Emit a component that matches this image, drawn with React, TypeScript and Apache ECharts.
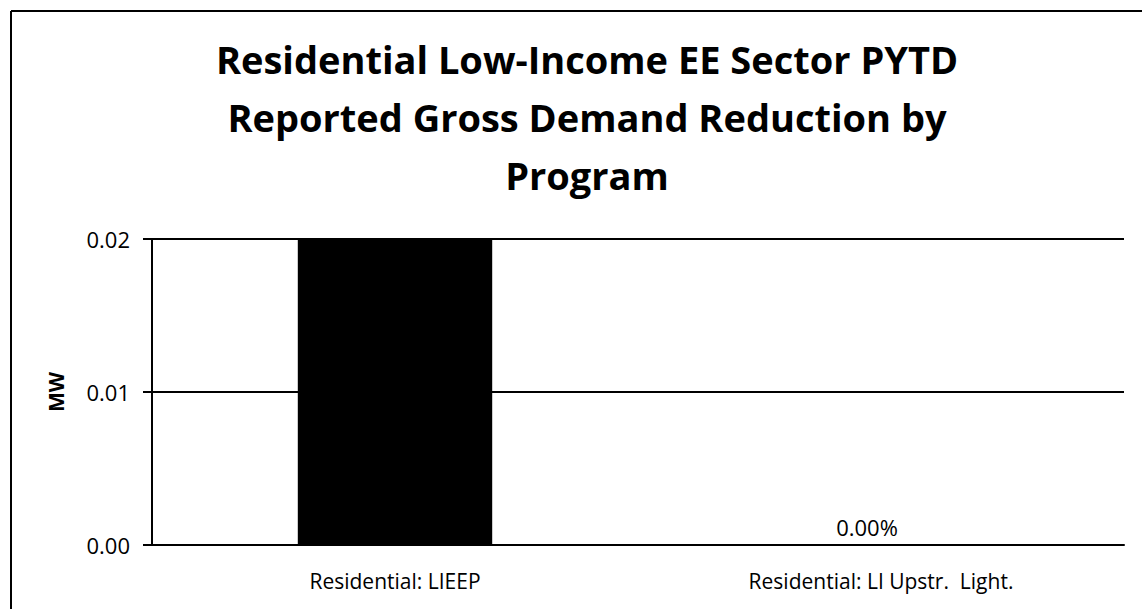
import React, { useEffect, useRef } from "react";
import * as echarts from "echarts";

const titleLines = [
  "Residential Low-Income EE Sector PYTD",
  "Reported Gross Demand Reduction by",
  "Program",
];
const categories = ["Residential: LIEEP", "Residential: LI Upstr.  Light."];
const values = [0.02, 0];
const barLabels = ["", "0.00%"];
const yTicks = { min: 0, max: 0.02, interval: 0.01 };
const yAxisName = "MW";

export default function App() {
  const ref = useRef<HTMLDivElement>(null);
  useEffect(() => {
    if (!ref.current) return;
    const chart = echarts.init(ref.current, null, { renderer: "svg" });
    const font = "'Open Sans', 'DejaVu Sans', sans-serif";
    chart.setOption({
      animation: false,
      backgroundColor: "#ffffff",
      title: {
        text: titleLines.join("\n"),
        left: 582,
        top: 25,
        textAlign: "center",
        textStyle: {
          fontFamily: font,
          fontWeight: "bold",
          fontSize: 38,
          lineHeight: 58,
          color: "#000",
        },
      },
      graphic: [
        { type: "line", shape: { x1: 11, y1: 11, x2: 1142, y2: 11 }, style: { stroke: "#000", lineWidth: 2 } },
        { type: "line", shape: { x1: 11, y1: 11, x2: 11, y2: 609 }, style: { stroke: "#000", lineWidth: 2 } },
      ],
      grid: { left: 152, right: 18, top: 239, bottom: 64, containLabel: false },
      xAxis: {
        type: "category",
        data: categories,
        axisLine: { show: true, lineStyle: { color: "#000", width: 2 } },
        axisTick: { show: false },
        axisLabel: { fontFamily: font, fontSize: 21, color: "#000", margin: 25 },
      },
      yAxis: {
        type: "value",
        min: yTicks.min,
        max: yTicks.max,
        interval: yTicks.interval,
        name: yAxisName,
        nameLocation: "middle",
        nameGap: 86,
        nameRotate: 90,
        nameTextStyle: { fontFamily: font, fontWeight: "bold", fontSize: 21, color: "#000" },
        axisLine: { show: true, lineStyle: { color: "#000", width: 2 } },
        axisTick: { show: true, length: 9, lineStyle: { color: "#000", width: 2 } },
        axisLabel: {
          fontFamily: font,
          fontSize: 22,
          color: "#000",
          margin: 22,
          formatter: (v: number) => v.toFixed(2),
        },
        splitLine: { show: true, lineStyle: { color: "#000", width: 2 } },
      },
      series: [
        {
          type: "bar",
          barWidth: "40%",
          data: values.map((v, i) => ({
            value: v,
            label: {
              show: barLabels[i] !== "",
              position: "top",
              distance: 7,
              offset: [-14, 0],
              formatter: barLabels[i],
              fontFamily: font,
              fontSize: 22,
              color: "#000",
            },
          })),
          itemStyle: { color: "#000" },
        },
      ],
    });
    return () => chart.dispose();
  }, []);
  return (
    <div
      ref={ref}
      style={{ position: "fixed", left: 0, top: 0, width: 1142, height: 609 }}
    />
  );
}
